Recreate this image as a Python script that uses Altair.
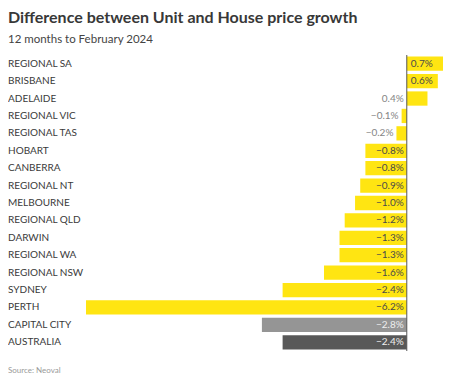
import altair as alt
import pandas as pd

regions = ["REGIONAL SA", "BRISBANE", "ADELAIDE", "REGIONAL VIC", "REGIONAL TAS",
           "HOBART", "CANBERRA", "REGIONAL NT", "MELBOURNE", "REGIONAL QLD",
           "DARWIN", "REGIONAL WA", "REGIONAL NSW", "SYDNEY", "PERTH",
           "CAPITAL CITY", "AUSTRALIA"]
values = [0.7, 0.6, 0.4, -0.1, -0.2, -0.8, -0.8, -0.9, -1.0, -1.2,
          -1.3, -1.3, -1.6, -2.4, -6.2, -2.8, -2.4]
kinds = ["region"] * 15 + ["capital", "national"]

title_text = "Difference between Unit and House price growth"
subtitle_text = "12 months to February 2024"
source_text = "Source: Neoval"

FONT = "Lato"
bar_colors = {"region": "#FFE512", "capital": "#959595", "national": "#585858"}

df = pd.DataFrame({"region": regions, "value": values, "kind": kinds})
df["barcolor"] = df["kind"].map(bar_colors)

W, H = 357, 296

x_scale = alt.Scale(domain=[-6.2, 0.7], nice=False, zero=False)
y_scale = alt.Scale(domain=regions, paddingInner=0.18, paddingOuter=0.09)

base = alt.Chart(df)

bars = base.mark_bar().encode(
    x=alt.X("value:Q", scale=x_scale, axis=None),
    x2=alt.datum(0),
    y=alt.Y("region:N", scale=y_scale, axis=None, sort=regions),
    color=alt.Color("barcolor:N", scale=None),
)

zero = alt.Chart(pd.DataFrame({"z": [0]})).mark_rule(color="#555555", strokeWidth=1).encode(
    x=alt.X("z:Q", scale=x_scale)
)

row_labels = base.mark_text(align="left", baseline="middle", font=FONT, fontSize=10,
                            color="#3a3a3a").encode(
    x=alt.value(-78),
    y=alt.Y("region:N", scale=y_scale, sort=regions),
    text="region:N",
)

lab = base.transform_calculate(
    label="format(datum.value, '.1f') + '%'",
    anchor="(datum.value < 0 && datum.value > -0.5) ? datum.value : 0",
    tcolor="abs(datum.value) < 0.5 ? '#858585' : (datum.kind == 'region' ? '#4a4a4a' : '#eeeeee')",
)

labels_left = lab.transform_filter("datum.value >= 0.5").mark_text(
    align="left", baseline="middle", dx=4, font=FONT, fontSize=10).encode(
    x=alt.X("anchor:Q", scale=x_scale),
    y=alt.Y("region:N", scale=y_scale, sort=regions),
    text="label:N",
    color=alt.Color("tcolor:N", scale=None),
)

labels_right = lab.transform_filter("datum.value < 0.5").mark_text(
    align="right", baseline="middle", dx=-3, font=FONT, fontSize=10).encode(
    x=alt.X("anchor:Q", scale=x_scale),
    y=alt.Y("region:N", scale=y_scale, sort=regions),
    text="label:N",
    color=alt.Color("tcolor:N", scale=None),
)

title = alt.Chart(pd.DataFrame({"t": [title_text]})).mark_text(
    align="left", baseline="alphabetic", font=FONT, fontSize=16, fontWeight="bold",
    color="#383838").encode(x=alt.value(-78), y=alt.value(-32), text="t:N")
subtitle = alt.Chart(pd.DataFrame({"t": [subtitle_text]})).mark_text(
    align="left", baseline="alphabetic", font=FONT, fontSize=11.5,
    color="#444444").encode(x=alt.value(-78), y=alt.value(-12.5), text="t:N")
source = alt.Chart(pd.DataFrame({"t": [source_text]})).mark_text(
    align="left", baseline="alphabetic", font=FONT, fontSize=8,
    color="#999999").encode(x=alt.value(-78), y=alt.value(317.5), text="t:N")

chart = alt.layer(bars, zero, row_labels, labels_left, labels_right, title, subtitle, source).properties(
    width=W, height=H,
    autosize=alt.AutoSizeParams(type="none"),
    padding={"left": 78, "top": 47, "right": 0, "bottom": 30},
    background="white",
).configure_view(stroke=None)

chart.save("out.html", embed_options={"renderer": "svg", "actions": False})
